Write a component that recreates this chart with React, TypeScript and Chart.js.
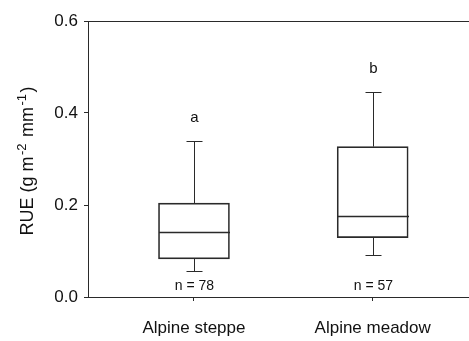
import React, { useEffect, useRef } from "react";
import { Chart, registerables } from "chart.js";

Chart.register(...registerables);

const categories = ["Alpine steppe", "Alpine meadow"];
const whiskerLow = [0.057, 0.091];
const q1 = [0.083, 0.129];
const median = [0.141, 0.177];
const q3 = [0.204, 0.327];
const whiskerHigh = [0.339, 0.446];
const letters = ["a", "b"];
const nLabels = ["n = 78", "n = 57"];
const yTicks = [0, 0.2, 0.4, 0.6];

const FONT = "'Liberation Sans', Arial, Helvetica, sans-serif";
const INK = "#2a2a2a";

const boxPlugin = {
  id: "boxExtras",
  afterDatasetsDraw(chart: any) {
    const { ctx, scales, chartArea } = chart;
    const xs = scales.x;
    const ys = scales.y;
    ctx.save();
    ctx.strokeStyle = INK;
    ctx.lineWidth = 1;
    // top frame line
    ctx.beginPath();
    ctx.moveTo(chartArea.left, Math.round(chartArea.top) + 0.5);
    ctx.lineTo(chartArea.right, Math.round(chartArea.top) + 0.5);
    ctx.stroke();
    const boxW = 71;
    const capW = 16;
    categories.forEach((_, i) => {
      const cx = Math.round(xs.getPixelForValue(i + 1)) + 0.5;
      const yHi = Math.round(ys.getPixelForValue(whiskerHigh[i])) + 0.5;
      const yLo = Math.round(ys.getPixelForValue(whiskerLow[i])) + 0.5;
      const yQ1 = ys.getPixelForValue(q1[i]);
      const yQ3 = ys.getPixelForValue(q3[i]);
      const yMed = Math.round(ys.getPixelForValue(median[i])) + 0.5;
      ctx.beginPath();
      ctx.moveTo(cx, yQ3);
      ctx.lineTo(cx, yHi);
      ctx.moveTo(cx - capW / 2, yHi);
      ctx.lineTo(cx + capW / 2, yHi);
      ctx.moveTo(cx, yQ1);
      ctx.lineTo(cx, yLo);
      ctx.moveTo(cx - capW / 2, yLo);
      ctx.lineTo(cx + capW / 2, yLo);
      ctx.stroke();
      ctx.beginPath();
      ctx.lineWidth = 1.5;
      ctx.moveTo(cx - boxW / 2, yMed);
      ctx.lineTo(cx + boxW / 2, yMed);
      ctx.stroke();
      ctx.lineWidth = 1;
      ctx.fillStyle = "#111";
      ctx.textAlign = "center";
      ctx.textBaseline = "middle";
      ctx.font = `15px ${FONT}`;
      ctx.fillText(letters[i], cx, yHi - 24);
      ctx.font = `14px ${FONT}`;
      ctx.fillText(nLabels[i], cx, chartArea.bottom - 11);
    });
    // y axis title with superscripts
    ctx.translate(30, 161);
    ctx.rotate(-Math.PI / 2);
    const parts: [string, boolean][] = [
      ["RUE (g m", false],
      ["-2", true],
      [" mm", false],
      ["-1", true],
      [")", false],
    ];
    const big = `18px ${FONT}`;
    const small = `13px ${FONT}`;
    const gap = 1.5;
    let total = 0;
    parts.forEach(([t, sup]) => {
      ctx.font = sup ? small : big;
      total += ctx.measureText(t).width;
      if (sup) total += 2 * gap;
    });
    let x = -total / 2;
    ctx.textAlign = "left";
    ctx.textBaseline = "alphabetic";
    ctx.fillStyle = "#111";
    parts.forEach(([t, sup]) => {
      ctx.font = sup ? small : big;
      if (sup) x += gap;
      ctx.fillText(t, x, sup ? -4 : 2.5);
      x += ctx.measureText(t).width;
      if (sup) x += gap;
    });
    ctx.restore();
  },
};

export default function App() {
  const ref = useRef<HTMLCanvasElement>(null);
  useEffect(() => {
    if (!ref.current) return;
    const chart = new Chart(ref.current, {
      type: "bar",
      data: {
        datasets: [
          {
            data: categories.map((_, i) => ({ x: i + 1, y: [q1[i], q3[i]] })) as any,
            backgroundColor: "rgba(255,255,255,0)",
            borderColor: INK,
            borderWidth: 1,
            borderSkipped: false,
            barThickness: 71,
          },
        ],
      },
      options: {
        animation: false,
        responsive: false,
        maintainAspectRatio: false,
        layout: { padding: { top: 21, right: 0, left: 0, bottom: 0 } },
        plugins: {
          legend: { display: false },
          tooltip: { enabled: false },
          title: { display: false },
        },
        scales: {
          x: {
            type: "linear",
            offset: false,
            bounds: "ticks",
            min: 0.407,
            max: 2.539,
            afterBuildTicks: (s: any) => {
              s.ticks = categories.map((_, i) => ({ value: i + 1 }));
            },
            afterFit: (s: any) => {
              s.height = 44;
            },
            ticks: {
              callback: (v: any) => categories[Number(v) - 1] ?? "",
              font: { family: FONT, size: 17 },
              color: "#111",
              padding: 17,
              maxRotation: 0,
              autoSkip: false,
            },
            grid: {
              display: true,
              offset: false,
              drawOnChartArea: false,
              drawTicks: true,
              tickLength: 4,
              color: INK,
            },
            border: { display: true, color: INK, width: 1 },
          },
          y: {
            type: "linear",
            min: 0,
            max: 0.6,
            afterBuildTicks: (s: any) => {
              s.ticks = yTicks.map((v) => ({ value: v }));
            },
            afterFit: (s: any) => {
              s.width = 88;
            },
            ticks: {
              callback: (v: any) => Number(v).toFixed(1),
              font: { family: FONT, size: 17 },
              color: "#111",
              padding: 6,
            },
            grid: {
              display: true,
              drawOnChartArea: false,
              drawTicks: true,
              tickLength: 4,
              color: INK,
            },
            border: { display: true, color: INK, width: 1 },
          },
        },
      },
      plugins: [boxPlugin],
    });
    return () => chart.destroy();
  }, []);
  return (
    <div style={{ position: "absolute", left: 0, top: 0, width: 469, height: 341, background: "#fff" }}>
      <canvas ref={ref} width={469} height={341} style={{ display: "block" }} />
    </div>
  );
}
